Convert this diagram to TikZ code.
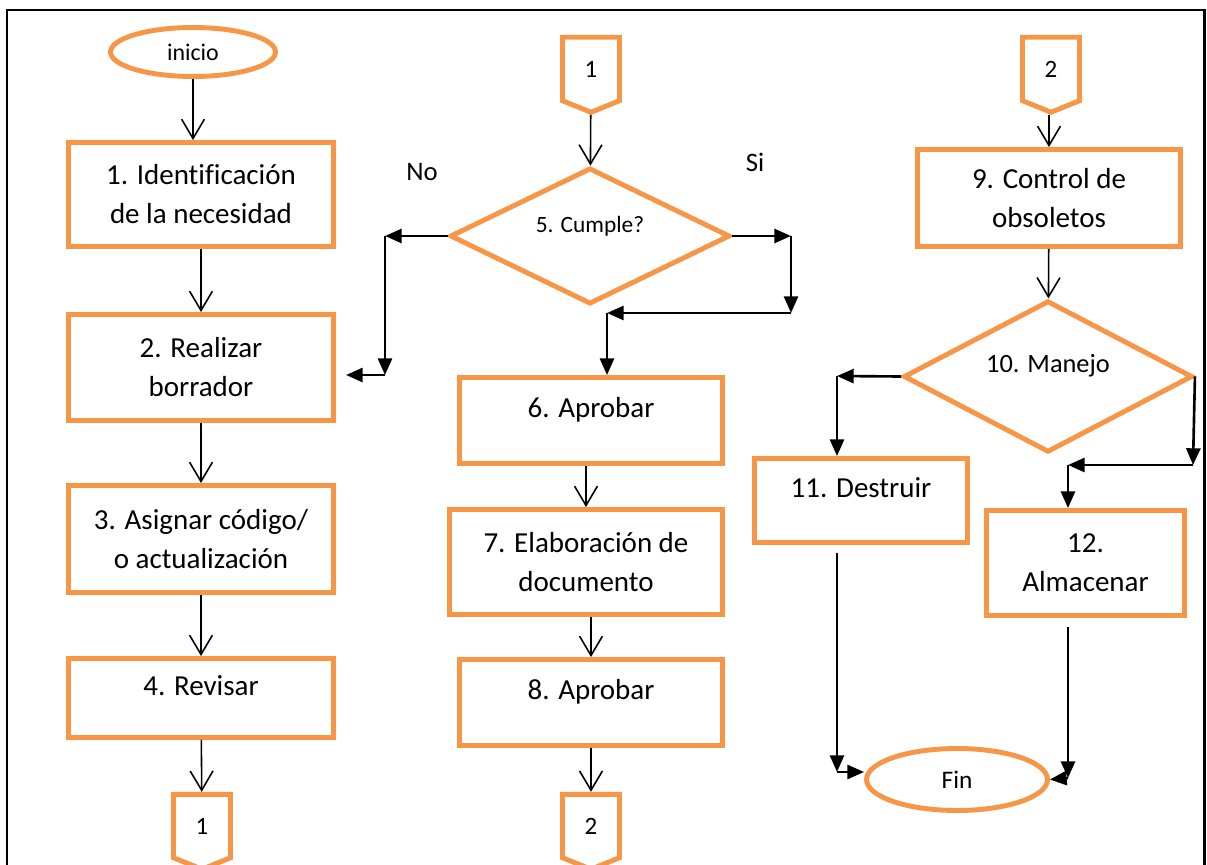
\documentclass[tikz,border=0pt]{standalone}
\usepackage{fontspec}
\setmainfont{Carlito}[Ligatures=NoCommon]
\usepackage{tikz}
\usetikzlibrary{arrows.meta, shapes.geometric, shapes.symbols}
\definecolor{naranja}{RGB}{247,150,70}

\begin{document}
\begin{tikzpicture}[x=0.02cm, y=-0.02cm,
    caja/.style={draw=naranja, line width=2.8pt, inner sep=0pt, align=center, font=\fontsize{16.5}{22.2}\selectfont},
    arriba/.style={text height=0.4cm, text depth=0.52cm},
    rombo/.style={diamond, draw=naranja, line width=2.8pt, inner sep=0pt, text height=0.2cm, text depth=0.36cm},
    elipse/.style={ellipse, draw=naranja, line width=2.8pt, inner sep=0pt},
    conector/.style={signal, signal to=south, signal pointer angle=136, draw=naranja, line width=2.8pt, inner sep=0pt, minimum width=1.14cm, minimum height=1.32cm, font=\fontsize{14.2}{16}\selectfont},
    flecha/.style={-{Straight Barb[length=11pt,width=13pt]}, line width=0.9pt},
    linea/.style={-{Triangle[length=9.5pt,width=8pt]}, line width=1.5pt}]
    \useasboundingbox (0,0) rectangle (1207,865);
    % marco
    \draw[line width=1.7pt] (7,880) -- (7,10) -- (1204,10) -- (1204,880);

    % columna 1
    \node[elipse, minimum width=3.3cm, minimum height=0.98cm, font=\fontsize{13.6}{15}\selectfont] (ini) at (193,52) {inicio};
    \node[caja, minimum width=5.3cm, minimum height=2.08cm] (p1) at (201,194.5) {1. Identificación\\de la necesidad};
    \node[caja, minimum width=5.3cm, minimum height=2.12cm] (p2) at (201,367.5) {2. Realizar\\borrador};
    \node[caja, minimum width=5.3cm, minimum height=2.14cm] (p3) at (201,539) {3. Asignar código/\\o actualización};
    \node[caja, arriba, minimum width=5.3cm, minimum height=1.58cm] (p4) at (201,698) {4. Revisar};
    \node[conector] (c1b) at (202,826) {1};

    \draw[flecha] (ini.south) -- (ini.south |- p1.north);
    \draw[flecha] (p1) -- (p2);
    \draw[flecha] (p2) -- (p3);
    \draw[flecha] (p3) -- (p4);
    \draw[flecha] (p4) -- (c1b);

    % columna 2
    \node[conector] (c1a) at (591,69) {1};
    \node[rombo, minimum width=5.6cm, minimum height=2.64cm, font=\fontsize{13.3}{15}\selectfont] (d5) at (590,236) {5. Cumple?};
    \node[font=\fontsize{15.2}{17}\selectfont] (no) at (422,172) {No};
    \node[font=\fontsize{15.2}{17}\selectfont] (si) at (755,162) {Si};
    \node[caja, arriba, minimum width=5.26cm, minimum height=1.72cm] (p6) at (591,420.5) {6. Aprobar};
    \node[caja, minimum width=5.46cm, minimum height=2.1cm] (p7) at (586,562) {7. Elaboración de\\documento};
    \node[caja, arriba, minimum width=5.26cm, minimum height=1.72cm] (p8) at (591,702.5) {8. Aprobar};
    \node[conector] (c2b) at (591,826) {2};

    \coordinate (noA) at (385,236);
    \coordinate (noB) at (385,375);
    \coordinate (noC) at (346,375);
    \coordinate (siA) at (791,236);
    \coordinate (siB) at (791,313);
    \coordinate (siC) at (607,313);

    \draw[flecha] (c1a) -- (d5);
    \draw[linea] (d5.west) -- (noA);
    \draw[linea] (noA) -- (noB);
    \draw[linea] (noB) -- (noC);
    \draw[linea] (d5.east) -- (siA);
    \draw[linea] (siA) -- (siB);
    \draw[linea] (siB) -- (siC);
    \draw[linea] (siC) -- (siC |- p6.north);
    \draw[flecha] (p6.south -| p7) -- (p7);
    \draw[flecha] (p7.south -| p8) -- (p8);
    \draw[flecha] (p8) -- (c2b);

    % columna 3
    \node[conector] (c2a) at (1051,69) {2};
    \node[caja, minimum width=5.26cm, minimum height=1.94cm] (p9) at (1049,198) {9. Control de\\obsoletos};
    \node[rombo, minimum width=5.78cm, minimum height=2.82cm, font=\fontsize{15}{17}\selectfont] (d10) at (1048,376.5) {10. Manejo};
    \node[caja, arriba, minimum width=4.26cm, minimum height=1.68cm] (p11) at (861,500.5) {11. Destruir};
    \node[caja, minimum width=3.96cm, minimum height=2.1cm] (p12) at (1085.5,563) {12.\\Almacenar};
    \node[elipse, minimum width=3.62cm, minimum height=1.24cm, font=\fontsize{14.4}{16}\selectfont] (fin) at (957,779.5) {Fin};

    \coordinate (mA) at (837,376);
    \coordinate (mB) at (1193,465);
    \coordinate (mD) at (1068,465);
    \coordinate (fA) at (837,772);
    \coordinate (fD) at (1068,778);

    \draw[flecha] (c2a.south -| p9) -- (p9);
    \draw[flecha] (p9) -- (d10);
    \draw[linea] (d10.west) -- (mA);
    \draw[linea] (mA) -- (mA |- p11.north);
    \draw[linea] (d10.east) -- (mB);
    \draw[linea] (mB) -- (mD);
    \draw[linea] (mD) -- (mD |- p12.north);
    \draw[linea, shorten <=0.16cm] (p11.south -| fA) -- (fA);
    \draw[linea] (fA) -- (fA -| fin.west);
    \draw[linea, shorten <=0.18cm] (p12.south -| fD) -- (fD);
    \draw[linea] (fD) -- (fin.east);
\end{tikzpicture}
\end{document}
